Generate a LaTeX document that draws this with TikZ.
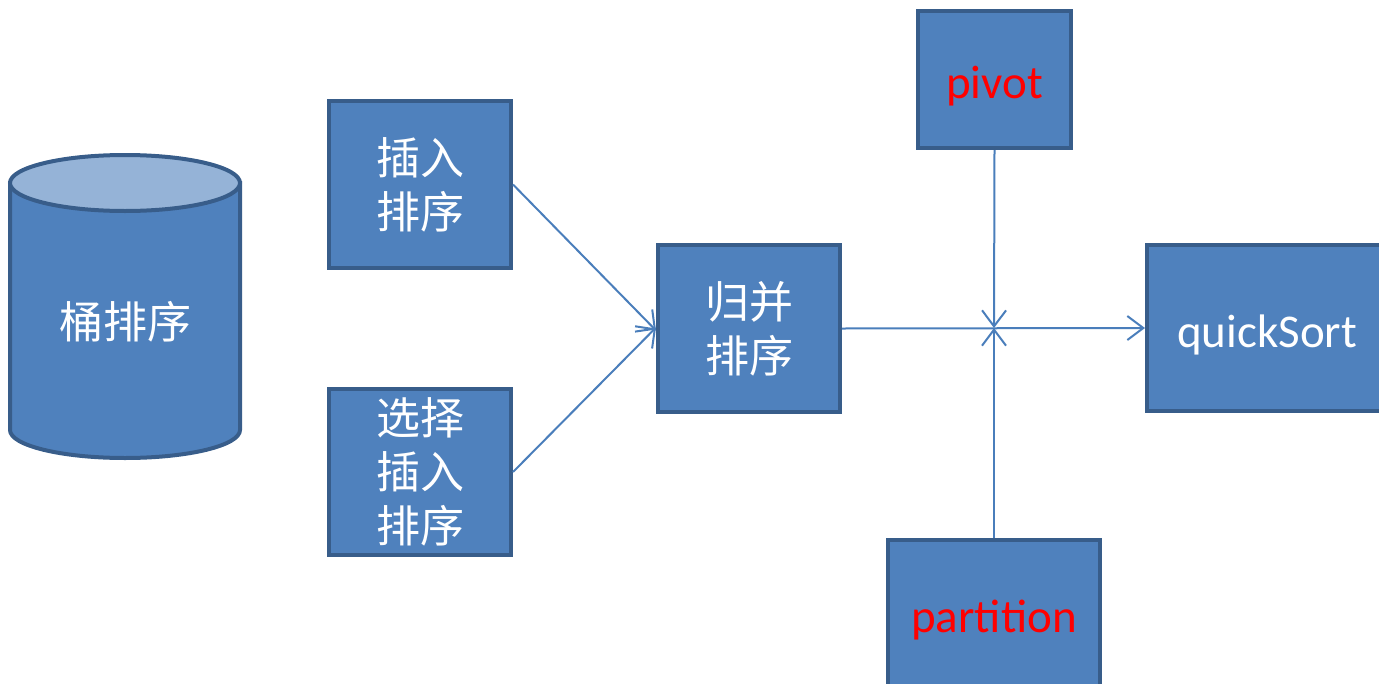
\documentclass[tikz,border=0pt]{standalone}
\usepackage{fontspec}
\setmainfont{Carlito}
\newfontfamily\cjk{Noto Sans CJK SC}
\usetikzlibrary{arrows.meta}
\definecolor{boxfill}{HTML}{4F81BD}
\definecolor{boxedge}{HTML}{385D8A}
\definecolor{topfill}{HTML}{95B3D7}
\definecolor{linkcol}{HTML}{4A7EBB}
\definecolor{redtext}{HTML}{FF0000}
\tikzset{
  sortbox/.style={draw=boxedge, fill=boxfill, line width=4pt, rectangle, inner sep=0pt, align=center},
  cjktext/.style={font=\cjk\fontsize{44}{54}\selectfont, text=white},
  latintext/.style={font=\fontsize{47}{54}\selectfont, text depth=0pt, yshift=-3pt},
  link/.style={draw=linkcol, line width=2pt, -{Straight Barb[length=16pt,width=24pt,line width=2pt]}}
}
\begin{document}
\begin{tikzpicture}[x=1pt,y=-1pt]
\useasboundingbox (0,0) rectangle (1379,683);
\clip (0,0) rectangle (1379,683);
% cylinder
\draw[boxedge, fill=boxfill, line width=4pt] (10,183) -- (10,430) arc[start angle=180,end angle=0,x radius=115,y radius=28] -- (240,183) -- cycle;
\draw[boxedge, fill=topfill, line width=4pt] (125,183) ellipse[x radius=115,y radius=28];
\node[cjktext] (bucket) at (125,322) {桶排序};
% boxes
\node[sortbox, minimum width=182, minimum height=167, cjktext] (ins) at (420,184.5) {插入\\排序};
\node[sortbox, minimum width=182, minimum height=166, cjktext] (sel) at (420,472) {选择\\插入\\排序};
\node[sortbox, minimum width=182, minimum height=167, cjktext] (merge) at (749,328.5) {归并\\排序};
\node[sortbox, minimum width=153, minimum height=137] (pivot) at (994.5,79.5) {};
\node[latintext, text=redtext] (pivotlbl) at (pivot.center) {pivot};
\node[sortbox, minimum width=240, minimum height=166] (qs) at (1267,328) {};
\node[latintext, text=white] (qslbl) at (qs.center) {quickSort};
\node[sortbox, minimum width=212, minimum height=150] (part) at (994,615) {};
\node[latintext, text=redtext] (partlbl) at (994,613) {partition};
\coordinate (cross) at (994,328);
% connectors
\draw[link] (ins.east) -- ([yshift=-2]merge.west);
\draw[link] (sel.east) -- ([yshift=1]merge.west);
\draw[link] (merge.east) -- (qs.west);
\draw[link] (pivot.south) -- (cross);
\draw[link] (part.north) -- (cross);
\end{tikzpicture}
\end{document}
